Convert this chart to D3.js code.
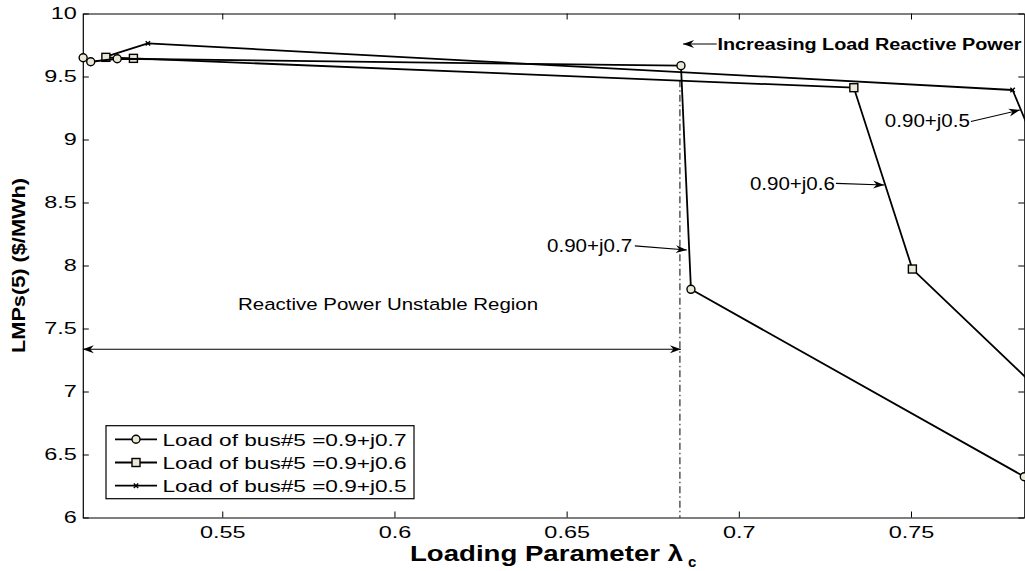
<!DOCTYPE html>
<html>
<head>
<meta charset="utf-8">
<script src="https://cdn.jsdelivr.net/npm/d3@7"></script>
<style>
  html, body { margin: 0; padding: 0; background: #fff; }
  svg { display: block; font-family: Arial, "Liberation Sans", Helvetica, sans-serif; }
</style>
</head>
<body>
<svg id="chart" width="1025" height="571"></svg>
<script>
// ---- data -------------------------------------------------------------
const xTickValues = [0.55, 0.6, 0.65, 0.7, 0.75];
const yTickValues = [6, 6.5, 7, 7.5, 8, 8.5, 9, 9.5, 10];

const seriesLabels = [
  "Load of bus#5 =0.9+j0.7",
  "Load of bus#5 =0.9+j0.6",
  "Load of bus#5 =0.9+j0.5"
];
const seriesMarkers = ["circle", "square", "cross"];

// loading parameter (lambda) and LMP at bus 5, one pair of arrays per load case
const lambdaJ07 = [0.5096, 0.5118, 0.5195, 0.6832, 0.6861, 0.7829];
const lmpJ07    = [9.649, 9.617, 9.641, 9.586, 7.811, 6.324];

const lambdaJ06 = [0.5162, 0.5242, 0.7334, 0.7504, 0.7850];
const lmpJ06    = [9.652, 9.644, 9.411, 7.972, 7.068];

const lambdaJ05 = [0.5160, 0.5284, 0.7795, 0.7850];
const lmpJ05    = [9.655, 9.763, 9.393, 9.032];

// critical loading point of the 0.9+j0.7 case
const lambdaCritical = 0.6829;

// annotation labels with arrows, anchored in data coordinates
const arrowNotes = [
  { text: "0.90+j0.7", tx: 0.6690, ty: 8.107, from: [0.6698, 8.156], to: [0.6849, 8.123] },
  { text: "0.90+j0.6", tx: 0.7279, ty: 8.603, from: [0.7282, 8.652], to: [0.7422, 8.639] },
  { text: "0.90+j0.5", tx: 0.7671, ty: 9.103, from: [0.7674, 9.143], to: [0.7816, 9.234] }
];

// ---- layout -------------------------------------------------------------
const svg = d3.select("#chart");
const plotL = 82.8, plotR = 1024.3, plotT = 13.5, plotB = 517.5;

const x = d3.scaleLinear().domain([0.5095, 0.7829]).range([plotL, plotR]);
const y = d3.scaleLinear().domain([6, 10]).range([plotB, plotT]);

const ink = "#000";
const face = "#ece8d6";

// arrow heads
const defs = svg.append("defs");
defs.append("marker")
  .attr("id", "head")
  .attr("viewBox", "-12 -5 13 10")
  .attr("markerWidth", 13).attr("markerHeight", 10)
  .attr("refX", 0).attr("refY", 0)
  .attr("markerUnits", "userSpaceOnUse")
  .attr("orient", "auto-start-reverse")
  .append("path")
  .attr("d", "M0,0 L-11,-4 L-7.5,0 L-11,4 Z")
  .attr("fill", ink);

defs.append("clipPath").attr("id", "plotClip")
  .append("rect")
  .attr("x", plotL).attr("y", plotT)
  .attr("width", plotR - plotL + 1).attr("height", plotB - plotT);

// ---- axes (boxed, ticks pointing inward) --------------------------------
const tickFont = 16.5, tickStretch = 1.42;

const gx = svg.append("g").attr("transform", `translate(0,${plotB})`)
  .call(d3.axisBottom(x).tickValues(xTickValues).tickSizeInner(-6).tickSizeOuter(0)
    .tickFormat(d3.format("")).tickPadding(8.5));
gx.selectAll("text")
  .attr("font-size", tickFont)
  .attr("transform", `scale(${tickStretch},1)`);

const gy = svg.append("g").attr("transform", `translate(${plotL},0)`)
  .call(d3.axisLeft(y).tickValues(yTickValues).tickSizeInner(-6).tickSizeOuter(0)
    .tickFormat(d3.format("")));
gy.selectAll("text")
  .attr("font-size", tickFont)
  .attr("x", 0)
  .attr("transform", `translate(-6,0) scale(${tickStretch},1)`);

svg.append("g").attr("transform", `translate(0,${plotT})`)
  .call(d3.axisTop(x).tickValues(xTickValues).tickSizeInner(-6).tickSizeOuter(0).tickFormat(""));
svg.append("g").attr("transform", `translate(${plotR},0)`)
  .call(d3.axisRight(y).tickValues(yTickValues).tickSizeInner(-6).tickSizeOuter(0).tickFormat(""));

svg.selectAll(".domain").attr("stroke", ink).attr("stroke-width", 1.2);
svg.selectAll(".tick line").attr("stroke", ink).attr("stroke-width", 1);
svg.selectAll(".tick text").attr("fill", ink);

// axis titles
svg.append("text")
  .attr("x", 410).attr("y", 561)
  .attr("font-size", 22).attr("font-weight", "bold")
  .attr("textLength", 273).attr("lengthAdjust", "spacingAndGlyphs")
  .text("Loading Parameter \u03bb");
svg.append("text")
  .attr("x", 688).attr("y", 566.5)
  .attr("font-size", 15).attr("font-weight", "bold")
  .text("c");

svg.append("text")
  .attr("transform", "translate(25,265.5) rotate(-90)")
  .attr("text-anchor", "middle")
  .attr("font-size", 18.6).attr("font-weight", "bold")
  .attr("textLength", 175).attr("lengthAdjust", "spacingAndGlyphs")
  .text("LMPs(5) ($/MWh)");

// ---- critical point guide and unstable region ------------------------------
svg.append("line")
  .attr("x1", x(lambdaCritical)).attr("x2", x(lambdaCritical))
  .attr("y1", y(9.47)).attr("y2", y(6))
  .attr("stroke", ink).attr("stroke-width", 1)
  .attr("stroke-dasharray", "7,3,1.5,3");

svg.append("line")
  .attr("x1", x(x.domain()[0])).attr("x2", x(lambdaCritical) + 1)
  .attr("y1", y(7.335)).attr("y2", y(7.335))
  .attr("stroke", ink).attr("stroke-width", 1.1)
  .attr("marker-start", "url(#head)").attr("marker-end", "url(#head)");

svg.append("text")
  .attr("x", x(0.5546)).attr("y", y(7.647))
  .attr("font-size", 16.3)
  .attr("textLength", 300).attr("lengthAdjust", "spacingAndGlyphs")
  .text("Reactive Power Unstable Region");

// ---- series --------------------------------------------------------------
const series = [
  { name: seriesLabels[0], marker: seriesMarkers[0], xs: lambdaJ07, ys: lmpJ07 },
  { name: seriesLabels[1], marker: seriesMarkers[1], xs: lambdaJ06, ys: lmpJ06 },
  { name: seriesLabels[2], marker: seriesMarkers[2], xs: lambdaJ05, ys: lmpJ05 }
];

const line = d3.line().x(d => x(d[0])).y(d => y(d[1]));

function drawMarker(g, type, cx, cy) {
  if (type === "circle") {
    g.append("circle").attr("cx", cx).attr("cy", cy).attr("r", 4)
      .attr("fill", face).attr("stroke", ink).attr("stroke-width", 1.4);
  } else if (type === "square") {
    g.append("rect").attr("x", cx - 4).attr("y", cy - 4).attr("width", 8).attr("height", 8)
      .attr("fill", face).attr("stroke", ink).attr("stroke-width", 1.4);
  } else {
    const s = 2.2;
    g.append("path")
      .attr("d", `M${cx - s},${cy - s}L${cx + s},${cy + s}M${cx - s},${cy + s}L${cx + s},${cy - s}`)
      .attr("stroke", ink).attr("stroke-width", 1.4).attr("fill", "none");
  }
}

const plot = svg.append("g");
// draw the later load cases first so the circle series sits on top
series.slice().reverse().forEach(s => {
  const pts = s.xs.map((v, i) => [v, s.ys[i]]);
  plot.append("path")
    .attr("d", line(pts))
    .attr("clip-path", "url(#plotClip)")
    .attr("fill", "none").attr("stroke", ink).attr("stroke-width", 1.8)
    .attr("stroke-linejoin", "round");
  const mg = plot.append("g");
  pts.filter(p => p[0] <= x.domain()[1] + 0.0005)
    .forEach(p => drawMarker(mg, s.marker, x(p[0]), y(p[1])));
});

// ---- annotations -----------------------------------------------------------
const noteG = svg.append("g");
arrowNotes.forEach(n => {
  noteG.append("line")
    .attr("x1", x(n.from[0])).attr("y1", y(n.from[1]))
    .attr("x2", x(n.to[0])).attr("y2", y(n.to[1]))
    .attr("stroke", ink).attr("stroke-width", 1.1)
    .attr("marker-end", "url(#head)");
  noteG.append("text")
    .attr("x", x(n.tx)).attr("y", y(n.ty))
    .attr("text-anchor", "end")
    .attr("font-size", 17.5)
    .attr("textLength", 85).attr("lengthAdjust", "spacingAndGlyphs")
    .text(n.text);
});

// load direction note
noteG.append("line")
  .attr("x1", x(0.6936)).attr("y1", y(9.758))
  .attr("x2", x(0.6838)).attr("y2", y(9.758))
  .attr("stroke", ink).attr("stroke-width", 1.1)
  .attr("marker-end", "url(#head)");
noteG.append("text")
  .attr("x", x(0.6938)).attr("y", y(9.71))
  .attr("font-size", 16).attr("font-weight", "bold")
  .attr("textLength", 304).attr("lengthAdjust", "spacingAndGlyphs")
  .text("Increasing Load Reactive Power");

// ---- legend ----------------------------------------------------------------
const lg = svg.append("g");
lg.append("rect")
  .attr("x", 106).attr("y", 425.7).attr("width", 308).attr("height", 73)
  .attr("fill", "#fff").attr("stroke", ink).attr("stroke-width", 1.2);
series.forEach((s, i) => {
  const ry = 439.3 + i * 23.2;
  lg.append("line").attr("x1", 115).attr("x2", 157).attr("y1", ry).attr("y2", ry)
    .attr("stroke", ink).attr("stroke-width", 1.8);
  drawMarker(lg, s.marker, 136, ry);
  lg.append("text")
    .attr("x", 162.5).attr("y", ry + 6.2)
    .attr("font-size", 17)
    .attr("textLength", 244).attr("lengthAdjust", "spacingAndGlyphs")
    .text(s.name);
});
</script>
</body>
</html>
